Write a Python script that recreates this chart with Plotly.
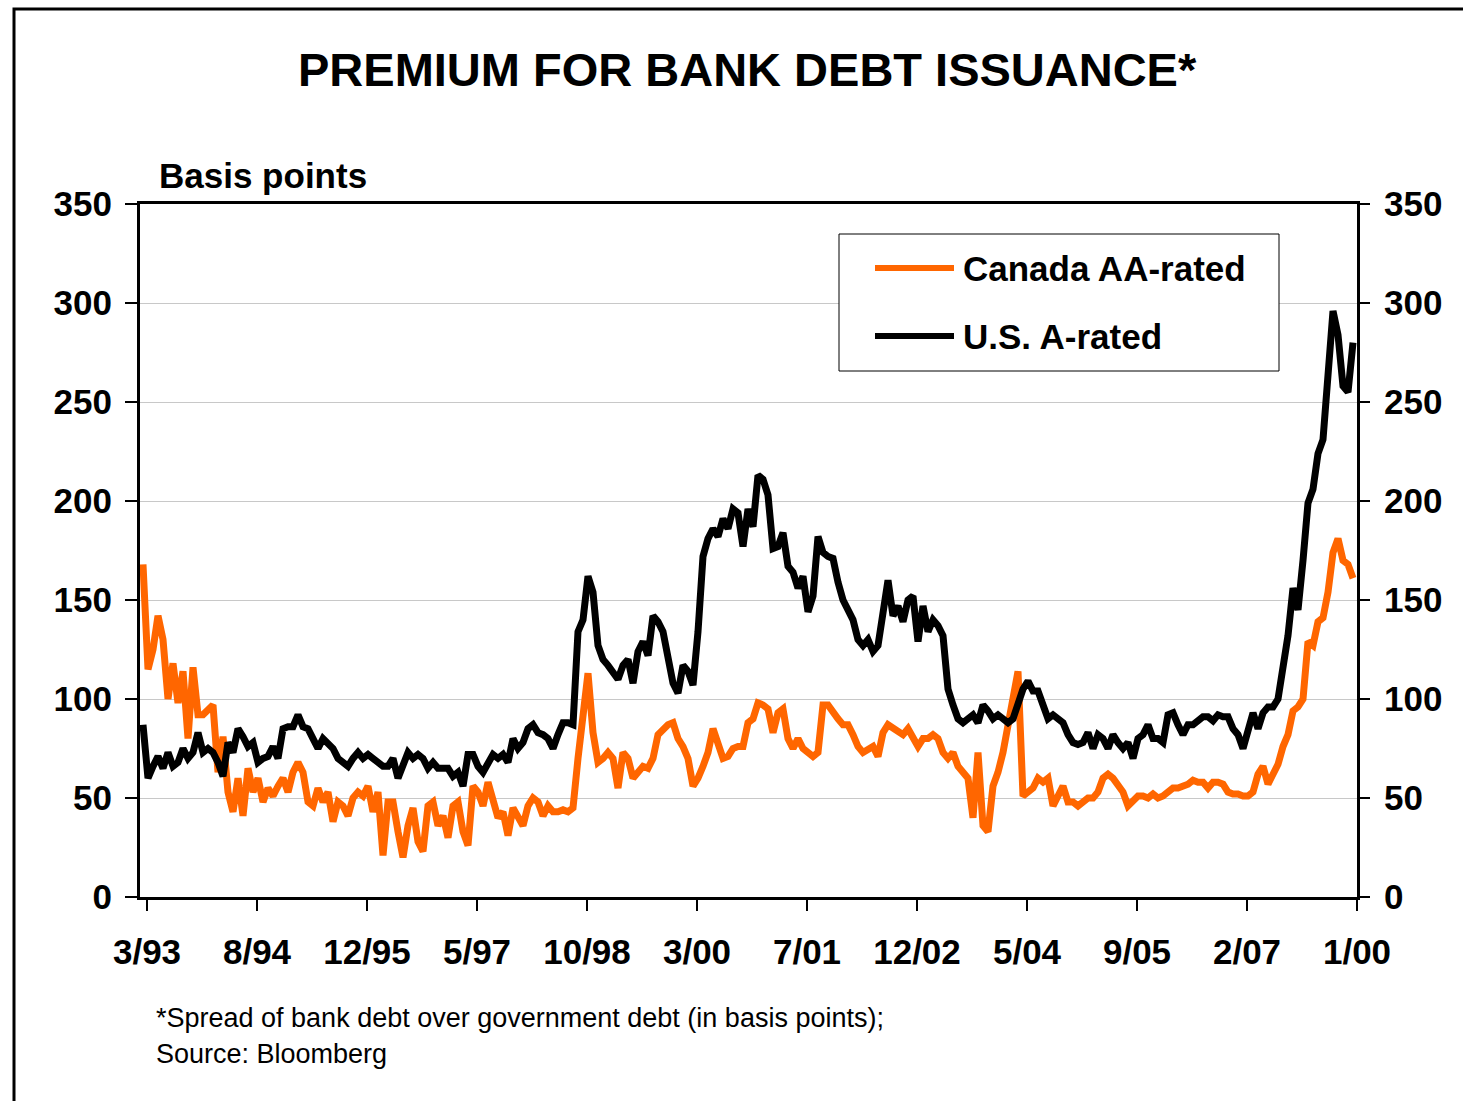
import numpy as np
import plotly.graph_objects as go

# ---------------- data ----------------
TICK_LABELS = ["3/93", "8/94", "12/95", "5/97", "10/98", "3/00", "7/01",
               "12/02", "5/04", "9/05", "2/07", "1/00"]
Y_TICKS = [0, 50, 100, 150, 200, 250, 300, 350]

CANADA_AA = [
    168, 115, 125, 142, 130, 100, 118, 98, 114, 80, 116, 92, 92, 95, 97, 63, 81, 53, 43, 60,
    41, 65, 53, 60, 48, 55, 51, 56, 60, 53, 63, 68, 63, 48, 46, 55, 48, 53, 38, 48, 46,
    41, 50, 53, 51, 56, 43, 53, 21, 48, 48, 33, 20, 36, 45, 28, 23, 46, 48, 36, 41,
    30, 46, 48, 33, 26, 56, 53, 46, 58, 50, 40, 43, 31, 45, 41, 36, 46, 50, 48, 41, 46,
    43, 43, 44, 43, 45, 70, 93, 113, 83, 68, 70, 73, 70, 55, 73, 70, 60, 63, 66, 65,
    70, 82, 85, 87, 88, 80, 76, 70, 56, 60, 66, 73, 85, 78, 70, 71, 75, 76, 76, 88, 90, 98,
    97, 95, 83, 93, 95, 80, 75, 80, 75, 73, 71, 73, 97, 97, 93, 90, 87, 87, 82, 76,
    73, 75, 76, 71, 83, 87, 85, 83, 82, 85, 80, 76, 80, 80, 82, 80, 73, 70, 73, 66, 63,
    60, 40, 73, 36, 33, 56, 63, 73, 87, 100, 114, 51, 53, 55, 60, 58, 60, 46, 51, 56,
    48, 48, 46, 48, 50, 50, 53, 60, 62, 60, 56, 53, 46, 48, 51, 51, 50, 52, 50, 51, 53,
    55, 55, 56, 57, 59, 58, 58, 55, 58, 58, 57, 53, 52, 52, 51, 51, 53, 62, 66, 57,
    62, 67, 76, 82, 94, 96, 100, 129, 127, 139, 141, 154, 174, 181, 170, 168, 161,
]

US_A = [
    87, 60, 66, 71, 65, 73, 66, 68, 75, 70, 73, 83, 73, 75, 73, 68, 61, 78, 73, 85,
    81, 76, 78, 68, 70, 71, 76, 70, 85, 86, 86, 92, 86, 85, 80, 75, 80, 78, 75, 70, 68,
    66, 70, 73, 70, 72, 70, 68, 66, 66, 70, 60, 66, 73, 70, 72, 70, 65, 68, 65, 65,
    65, 61, 63, 56, 72, 72, 66, 63, 68, 72, 70, 72, 68, 80, 75, 78, 85, 87, 83, 82, 80,
    75, 82, 88, 88, 87, 134, 140, 162, 154, 127, 120, 117, 114, 110, 117, 120, 108, 124, 129, 122,
    142, 139, 134, 119, 108, 103, 117, 114, 107, 134, 172, 181, 186, 182, 191, 186, 196, 194, 177, 196, 187, 213,
    211, 203, 176, 177, 184, 167, 164, 156, 162, 144, 152, 182, 174, 172, 171, 159, 150, 145, 140, 130,
    127, 130, 124, 127, 142, 160, 142, 147, 139, 150, 152, 129, 147, 134, 140, 137, 132, 105, 97, 90, 88,
    90, 92, 88, 97, 94, 90, 92, 90, 88, 90, 97, 105, 109, 104, 104, 97, 90, 92, 90, 88,
    82, 78, 77, 78, 83, 75, 82, 80, 75, 82, 78, 75, 78, 70, 80, 82, 87, 80, 80, 78, 92,
    93, 87, 82, 87, 87, 89, 91, 91, 89, 92, 91, 91, 85, 82, 75, 84, 93, 85, 93, 96,
    96, 100, 114, 132, 156, 145, 170, 199, 206, 224, 231, 262, 296, 284, 258, 255, 280,
]

SERIES_NAMES = ["Canada AA-rated", "U.S. A-rated"]
ORANGE = "#FF6600"
BLACK = "#000000"
FONT = "Liberation Sans, Arial, Helvetica, sans-serif"

# ---------------- figure ----------------
n = len(CANADA_AA)
x = np.arange(n)                       # sample index (time)
tick_pos = 0.8 + 22 * np.arange(len(TICK_LABELS))

fig = go.Figure()
fig.add_trace(go.Scatter(x=x, y=CANADA_AA, mode="lines", name=SERIES_NAMES[0],
                         line=dict(color=ORANGE, width=7), showlegend=False))
fig.add_trace(go.Scatter(x=x, y=US_A, mode="lines", name=SERIES_NAMES[1],
                         line=dict(color=BLACK, width=7), showlegend=False))
# invisible trace to carry the right-hand axis
fig.add_trace(go.Scatter(x=[x[0]], y=[None], yaxis="y2", showlegend=False,
                         hoverinfo="skip", mode="lines"))

W, H = 1463, 1101
L, R, T, B = 140, 1357, 204, 897


def px(X):
    return (X - L) / (R - L)


def py(Y):
    return (B - Y) / (B - T)


tickfont = dict(family=FONT, size=35, color="black", weight="bold")

fig.update_layout(
    width=W, height=H,
    margin=dict(l=L, r=W - R, t=T, b=H - B, pad=0),
    paper_bgcolor="white", plot_bgcolor="white",
    showlegend=False,
    font=dict(family=FONT, color="black"),
    xaxis=dict(range=[-0.6, n - 0.2], tickmode="array", tickvals=tick_pos,
               ticktext=TICK_LABELS, ticks="outside", ticklen=11, tickwidth=2,
               tickcolor="black", showline=True, linewidth=3, linecolor="black",
               mirror=True, showgrid=False, zeroline=False, tickfont=tickfont,
               ticklabelstandoff=11),
    yaxis=dict(range=[0, 350], tickmode="array", tickvals=Y_TICKS,
               ticks="outside", ticklen=12, tickwidth=2, tickcolor="black",
               showline=True, linewidth=3, linecolor="black", mirror=True,
               showgrid=True, gridcolor="#c8c8c8", gridwidth=1, zeroline=False,
               tickfont=tickfont, ticklabelstandoff=6),
    yaxis2=dict(range=[0, 350], overlaying="y", side="right", tickmode="array",
                tickvals=Y_TICKS, ticks="outside", ticklen=12, tickwidth=2,
                tickcolor="black", showline=False, showgrid=False, zeroline=False,
                tickfont=tickfont, ticklabelstandoff=7),
)

ann = []
ann.append(dict(text="<b>PREMIUM FOR BANK DEBT ISSUANCE*</b>", x=px(747), y=py(70),
                xref="paper", yref="paper", xanchor="center", yanchor="middle",
                showarrow=False, font=dict(family=FONT, size=47, color="black")))
ann.append(dict(text="<b>Basis points</b>", x=px(157), y=py(176),
                xref="paper", yref="paper", xanchor="left", yanchor="middle",
                showarrow=False, font=dict(family=FONT, size=35, color="black")))
ann.append(dict(text="*Spread of bank debt over government debt (in basis points);",
                x=px(154), y=py(1018), xref="paper", yref="paper", xanchor="left",
                yanchor="middle", showarrow=False,
                font=dict(family=FONT, size=27, color="black")))
ann.append(dict(text="Source: Bloomberg", x=px(154), y=py(1054), xref="paper",
                yref="paper", xanchor="left", yanchor="middle", showarrow=False,
                font=dict(family=FONT, size=27, color="black")))

# custom legend
leg_rows = [(SERIES_NAMES[0], ORANGE, 268), (SERIES_NAMES[1], BLACK, 336)]
shapes = [
    dict(type="rect", xref="paper", yref="paper", x0=px(839), x1=px(1279),
         y0=py(371), y1=py(234), line=dict(color="black", width=1),
         fillcolor="white", layer="above"),
    # outer frame (top and left)
    dict(type="path", xref="paper", yref="paper",
         path=f"M {px(14)},{py(1105)} L {px(14)},{py(9)} L {px(1470)},{py(9)}",
         line=dict(color="black", width=3)),
]
for name, col, yy in leg_rows:
    shapes.append(dict(type="line", xref="paper", yref="paper", x0=px(875), x1=px(954),
                       y0=py(yy), y1=py(yy), line=dict(color=col, width=6),
                       layer="above"))
    ann.append(dict(text=f"<b>{name}</b>", x=px(961), y=py(yy), xref="paper",
                    yref="paper", xanchor="left", yanchor="middle", showarrow=False,
                    font=dict(family=FONT, size=35, color="black")))

fig.update_layout(annotations=ann, shapes=shapes)

fig.write_html("out.html", config={"displayModeBar": False},
               post_script="document.body.style.margin='0';document.body.style.overflow='hidden';")
